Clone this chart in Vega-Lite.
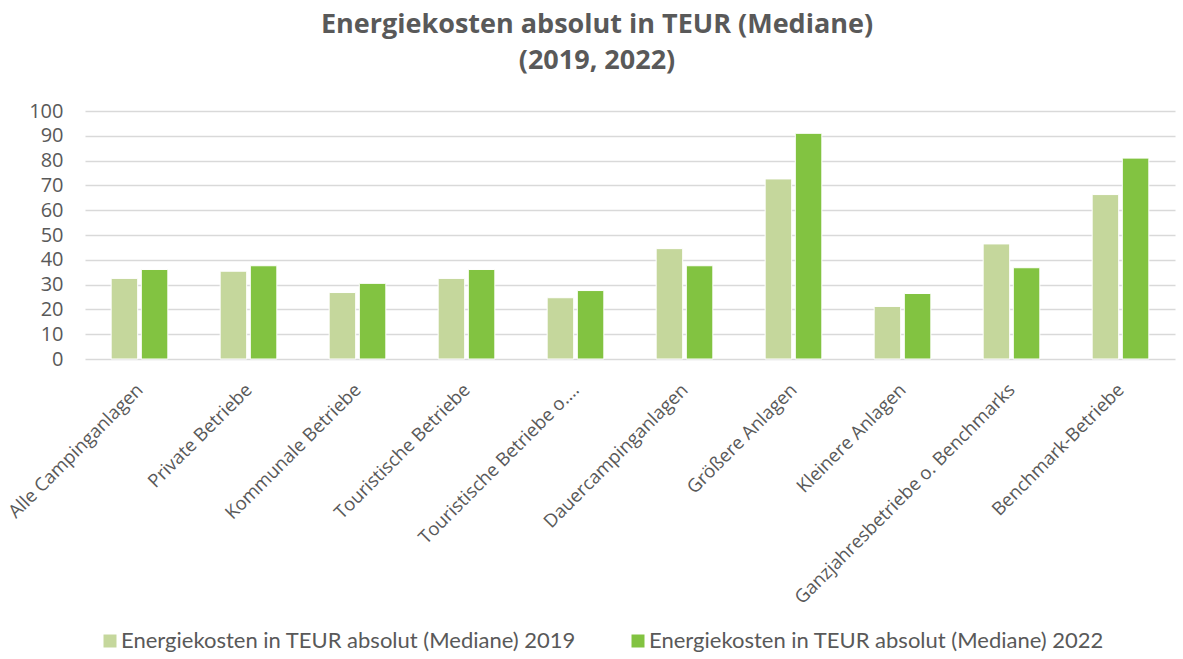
{
  "$schema": "https://vega.github.io/schema/vega-lite/v6.json",
  "width": 1090,
  "height": 248,
  "autosize": {"type": "none"},
  "padding": {"left": 85, "top": 111, "right": 8, "bottom": 300},
  "background": "white",
  "title": {
    "text": ["Energiekosten absolut in TEUR (Mediane)", "(2019, 2022)"],
    "font": "Open Sans",
    "fontSize": 27,
    "fontWeight": "bold",
    "color": "#595959",
    "anchor": "middle",
    "frame": "group",
    "dx": -33,
    "offset": 26,
    "lineHeight": 36
  },
  "data": {
    "values": [
      {"cat": "Alle Campinganlagen", "series": "Energiekosten in TEUR absolut (Mediane) 2019", "v": 32.5},
      {"cat": "Alle Campinganlagen", "series": "Energiekosten in TEUR absolut (Mediane) 2022", "v": 36.1},
      {"cat": "Private Betriebe", "series": "Energiekosten in TEUR absolut (Mediane) 2019", "v": 35.4},
      {"cat": "Private Betriebe", "series": "Energiekosten in TEUR absolut (Mediane) 2022", "v": 37.6},
      {"cat": "Kommunale Betriebe", "series": "Energiekosten in TEUR absolut (Mediane) 2019", "v": 26.8},
      {"cat": "Kommunale Betriebe", "series": "Energiekosten in TEUR absolut (Mediane) 2022", "v": 30.5},
      {"cat": "Touristische Betriebe", "series": "Energiekosten in TEUR absolut (Mediane) 2019", "v": 32.5},
      {"cat": "Touristische Betriebe", "series": "Energiekosten in TEUR absolut (Mediane) 2022", "v": 36.1},
      {"cat": "Touristische Betriebe o.…", "series": "Energiekosten in TEUR absolut (Mediane) 2019", "v": 24.7},
      {"cat": "Touristische Betriebe o.…", "series": "Energiekosten in TEUR absolut (Mediane) 2022", "v": 27.6},
      {"cat": "Dauercampinganlagen", "series": "Energiekosten in TEUR absolut (Mediane) 2019", "v": 44.5},
      {"cat": "Dauercampinganlagen", "series": "Energiekosten in TEUR absolut (Mediane) 2022", "v": 37.6},
      {"cat": "Größere Anlagen", "series": "Energiekosten in TEUR absolut (Mediane) 2019", "v": 72.6},
      {"cat": "Größere Anlagen", "series": "Energiekosten in TEUR absolut (Mediane) 2022", "v": 91.0},
      {"cat": "Kleinere Anlagen", "series": "Energiekosten in TEUR absolut (Mediane) 2019", "v": 21.2},
      {"cat": "Kleinere Anlagen", "series": "Energiekosten in TEUR absolut (Mediane) 2022", "v": 26.4},
      {"cat": "Ganzjahresbetriebe o. Benchmarks", "series": "Energiekosten in TEUR absolut (Mediane) 2019", "v": 46.4},
      {"cat": "Ganzjahresbetriebe o. Benchmarks", "series": "Energiekosten in TEUR absolut (Mediane) 2022", "v": 36.8},
      {"cat": "Benchmark-Betriebe", "series": "Energiekosten in TEUR absolut (Mediane) 2019", "v": 66.3},
      {"cat": "Benchmark-Betriebe", "series": "Energiekosten in TEUR absolut (Mediane) 2022", "v": 81.0}
    ]
  },
  "mark": {"type": "bar", "stroke": "white", "strokeWidth": 1},
  "encoding": {
    "x": {
      "field": "cat",
      "type": "nominal",
      "sort": null,
      "scale": {"paddingInner": 0.48, "paddingOuter": 0.24},
      "axis": {
        "title": null,
        "labelAngle": -45,
        "labelFont": "Open Sans",
        "labelFontSize": 18.5,
        "labelColor": "#595959",
        "labelLimit": 400,
        "ticks": false,
        "domain": false,
        "labelPadding": 21,
        "labelOffset": -6
      }
    },
    "xOffset": {"field": "series", "type": "nominal", "scale": {"paddingInner": 0.12}},
    "y": {
      "field": "v",
      "type": "quantitative",
      "scale": {"domain": [0, 100], "nice": false},
      "axis": {
        "title": null,
        "values": [0, 10, 20, 30, 40, 50, 60, 70, 80, 90, 100],
        "labelFont": "Open Sans",
        "labelFontSize": 20,
        "labelColor": "#595959",
        "ticks": false,
        "domain": false,
        "labelPadding": 22,
        "gridColor": "#d9d9d9",
        "gridWidth": 1.3
      }
    },
    "color": {
      "field": "series",
      "type": "nominal",
      "scale": {"range": ["#c5d79c", "#82c341"]},
      "legend": {
        "title": null,
        "orient": "none",
        "direction": "horizontal",
        "legendX": 14,
        "legendY": 519,
        "symbolType": "square",
        "symbolSize": 169,
        "symbolStrokeWidth": 0,
        "labelFont": "Lato",
        "labelFontSize": 22,
        "labelColor": "#595959",
        "labelLimit": 600,
        "columnPadding": 50,
        "labelOffset": 0
      }
    }
  },
  "config": {"view": {"stroke": null}}
}
